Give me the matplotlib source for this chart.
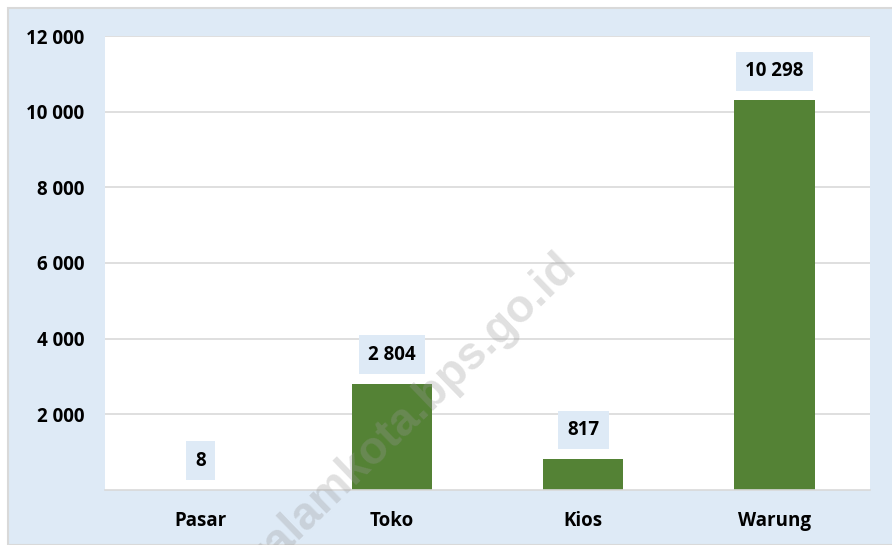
import matplotlib
matplotlib.use("Agg")
import matplotlib.pyplot as plt
from matplotlib.patches import Rectangle

categories = ["Pasar", "Toko", "Kios", "Warung"]
values = [8, 2804, 817, 10298]
y_ticks = [2000, 4000, 6000, 8000, 10000, 12000]

bar_color = "#548235"
panel_color = "#DEEAF6"
grid_color = "#D9D9D9"

plt.rcParams["font.family"] = ["Open Sans", "DejaVu Sans"]


def fmt(v):
    # space as thousands separator
    return f"{v:,}".replace(",", " ")


fig = plt.figure(figsize=(8.92, 5.45), dpi=100, facecolor="white")

# light blue chart panel with thin grey border
fig.patches.append(Rectangle((8 / 892, 0), 1, 1 - 8 / 545, transform=fig.transFigure,
                             facecolor=panel_color, edgecolor=grid_color, linewidth=1.5,
                             zorder=-5))

ax = fig.add_axes([105 / 892, 55 / 545, 765 / 892, 454 / 545])
ax.set_facecolor("white")

x = range(len(categories))
ax.bar(x, values, width=0.42, color=bar_color, zorder=2)

ax.set_xlim(-0.5, len(categories) - 0.5)
ax.set_ylim(0, 12000)
ax.set_yticks(y_ticks)
ax.set_yticklabels([fmt(t) for t in y_ticks])
ax.set_xticks(list(x))
ax.set_xticklabels(categories)

ax.grid(axis="y", color=grid_color, linewidth=1.2, zorder=1)
for side in ["top", "right", "left"]:
    ax.spines[side].set_visible(False)
ax.spines["bottom"].set_color(grid_color)
ax.spines["bottom"].set_linewidth(1.2)
ax.tick_params(axis="both", length=0, labelsize=13.5)
ax.tick_params(axis="y", pad=15)
ax.tick_params(axis="x", pad=15)
for lbl in ax.get_xticklabels() + ax.get_yticklabels():
    lbl.set_fontweight("bold")

for i, v in enumerate(values):
    ax.annotate(fmt(v), xy=(i, v), xytext=(0, 21), textcoords="offset points",
                ha="center", va="center", fontsize=13.5, fontweight="bold",
                bbox=dict(boxstyle="square,pad=0.5", facecolor=panel_color,
                          edgecolor="none"), zorder=3)

# watermark
fig.text(578 / 892, 1 - 268 / 545, "pagaralamkota.bps.go.id", rotation=44,
         rotation_mode="anchor", ha="right", va="baseline", fontsize=33,
         fontweight="bold", family=["Liberation Sans", "DejaVu Sans"],
         color="#999999", alpha=0.3, zorder=10)

fig.savefig("out.png", dpi=100, facecolor="white")
